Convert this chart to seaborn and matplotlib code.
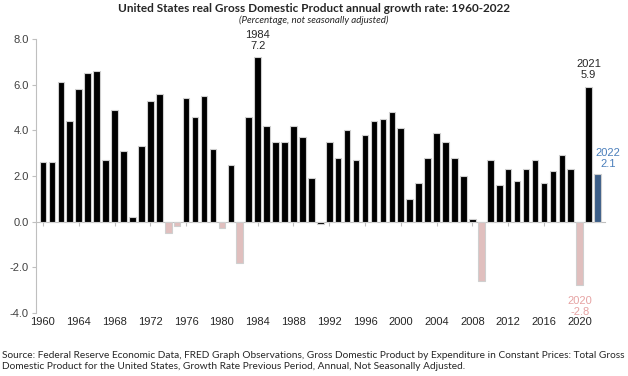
import numpy as np
import pandas as pd
import seaborn as sns
import matplotlib.pyplot as plt

# data
years = list(range(1960, 2023))
growth = [2.6, 2.6, 6.1, 4.4, 5.8, 6.5, 6.6, 2.7, 4.9, 3.1,
          0.2, 3.3, 5.3, 5.6, -0.5, -0.2, 5.4, 4.6, 5.5, 3.2,
          -0.3, 2.5, -1.8, 4.6, 7.2, 4.2, 3.5, 3.5, 4.2, 3.7,
          1.9, -0.1, 3.5, 2.8, 4.0, 2.7, 3.8, 4.4, 4.5, 4.8,
          4.1, 1.0, 1.7, 2.8, 3.9, 3.5, 2.8, 2.0, 0.1, -2.6,
          2.7, 1.6, 2.3, 1.8, 2.3, 2.7, 1.7, 2.2, 2.9, 2.3,
          -2.8, 5.9, 2.1]
callouts = {1984: 7.2, 2021: 5.9, 2022: 2.1, 2020: -2.8}
yticks = [-4.0, -2.0, 0.0, 2.0, 4.0, 6.0, 8.0]

BLACK = "#000000"
PINK = "#E6B9B8"
BLUE = "#2F5D95"

df = pd.DataFrame({"year": years, "growth": growth})
df["kind"] = np.where(df["growth"] < -0.15, "neg", "pos")
df.loc[df["year"] == 2022, "kind"] = "last"

sns.set_style("white")
plt.rcParams["font.family"] = ["Liberation Sans", "DejaVu Sans"]

fig = plt.figure(figsize=(6.28, 3.76), dpi=100)
ax = fig.add_axes([0.057, 0.168, 0.906, 0.728])

sns.barplot(data=df, x="year", y="growth", hue="kind", dodge=False,
            palette={"pos": BLACK, "neg": PINK, "last": BLUE},
            width=0.74, edgecolor="#cfcfcf", linewidth=0.8,
            legend=False, ax=ax)

ax.set_xlim(-0.8, 62.8)
ax.set_ylim(-4, 8)
ax.set_yticks(yticks)
ax.set_yticklabels([f"{v:.1f}" for v in yticks], fontsize=8, color="#404040")
ax.set_xlabel("")
ax.set_ylabel("")

# zero line with ticks, labels at the bottom
for s in ["top", "right"]:
    ax.spines[s].set_visible(False)
ax.spines["left"].set_color("#bfbfbf")
ax.spines["bottom"].set_position(("data", 0))
ax.spines["bottom"].set_color("#bfbfbf")
ax.spines["bottom"].set_zorder(0)
xt = list(range(0, len(years), 4))
ax.set_xticks(xt)
ax.tick_params(axis="x", bottom=True, length=3, color="#bfbfbf", labelbottom=False)
ax.tick_params(axis="y", left=True, length=3, color="#bfbfbf", pad=2)

sec = ax.secondary_xaxis("bottom")
sec.set_xticks(xt)
sec.set_xticklabels([str(years[i]) for i in xt], fontsize=8, color="#262626")
sec.tick_params(length=0, pad=3)
sec.spines["bottom"].set_visible(False)

# callouts
for yr, v in callouts.items():
    i = years.index(yr)
    if v < 0:
        ax.text(i, v - 0.45, f"{yr}\n{v}", ha="center", va="top", fontsize=8,
                color="#E6A3A3", linespacing=1.1)
    elif yr == 2022:
        ax.text(i + 1.2, v + 0.2, f"{yr}\n{v}", ha="center", va="bottom", fontsize=8,
                color="#4A7EBB", linespacing=1.1)
    else:
        ax.text(i, v + 0.3, f"{yr}\n{v}", ha="center", va="bottom", fontsize=8,
                color="#262626", linespacing=1.1)

fig.text(0.5, 0.978, "United States real Gross Domestic Product annual growth rate: 1960-2022",
         ha="center", va="center", fontsize=8.5, fontweight="bold", family=["Lato", "DejaVu Sans"])
fig.text(0.5, 0.945, "(Percentage, not seasonally adjusted)", ha="center", va="center",
         fontsize=7, style="italic", family=["Lato", "DejaVu Sans"])
fig.text(0.003, 0.04,
         "Source: Federal Reserve Economic Data, FRED Graph Observations, Gross Domestic Product by Expenditure in Constant Prices: Total Gross\n"
         "Domestic Product for the United States, Growth Rate Previous Period, Annual, Not Seasonally Adjusted.",
         ha="left", va="center", fontsize=7.3, linespacing=1.4, family=["Lato", "DejaVu Sans"])

fig.savefig("out.png", dpi=100)
